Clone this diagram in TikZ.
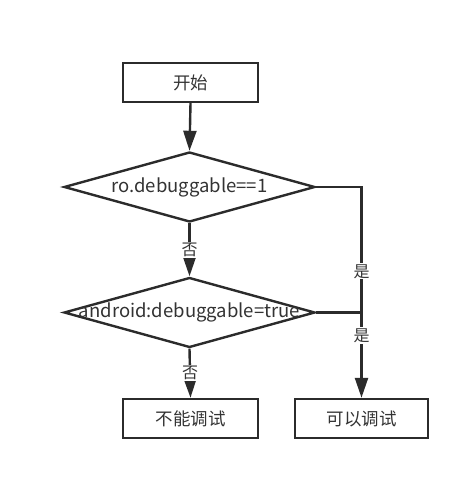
\documentclass[tikz,border=0pt]{standalone}
\usepackage{fontspec}
\setmainfont{Noto Sans CJK SC}
\usetikzlibrary{shapes.geometric,arrows.meta}
\definecolor{ln}{HTML}{2B2B2B}
\definecolor{tx}{HTML}{333333}
\tikzset{
  box/.style={draw=ln,line width=2.4pt,rectangle,minimum width=135pt,minimum height=39pt,inner sep=0pt,text=tx,font=\fontsize{17.5}{20}\selectfont},
  dia/.style={draw=ln,line width=2.4pt,diamond,minimum width=251pt,minimum height=70pt,inner sep=0pt},
  dtext/.style={text=tx,font=\fontsize{18.5}{20}\selectfont,inner sep=0pt},
  conn/.style={draw=ln,line width=2.4pt,-{Triangle[length=20pt,width=13pt]}},
  plain/.style={draw=ln,line width=2.4pt},
  lbl/.style={fill=white,text=tx,font=\fontsize{16}{18}\selectfont,inner sep=1pt}
}
\begin{document}
\begin{tikzpicture}[x=1pt,y=-1pt]
\useasboundingbox (0,0) rectangle (471,481);
\node[box] (start) at (190.5,82.5) {开始};
\node[dia] (d1) at (189.5,187) {};
\node[dtext] (d1t) at (d1.center) {ro.debuggable==1};
\node[dia] (d2) at (189.5,312.5) {};
\node[dtext] (d2t) at (d2.center) {android:debuggable=true};
\node[box] (no) at (190.5,418.5) {不能调试};
\node[box,minimum width=133pt] (yes) at (361.5,418.5) {可以调试};
\draw[conn] (start.south) -- (d1.north);
\draw[conn] (d1.south) -- node[lbl] (n1) {否} (d2.north);
\draw[conn] (d1.east) -| node[lbl,pos=0.70] (y1) {是} (yes.north);
\draw[plain] (d2.east) -- (d2.east -| yes.north) coordinate (j);
\path (j) -- node[lbl,pos=0.27] (y2) {是} (yes.north);
\draw[conn] (d2.south) -- node[lbl] (n2) {否} (no.north);
\end{tikzpicture}
\end{document}
